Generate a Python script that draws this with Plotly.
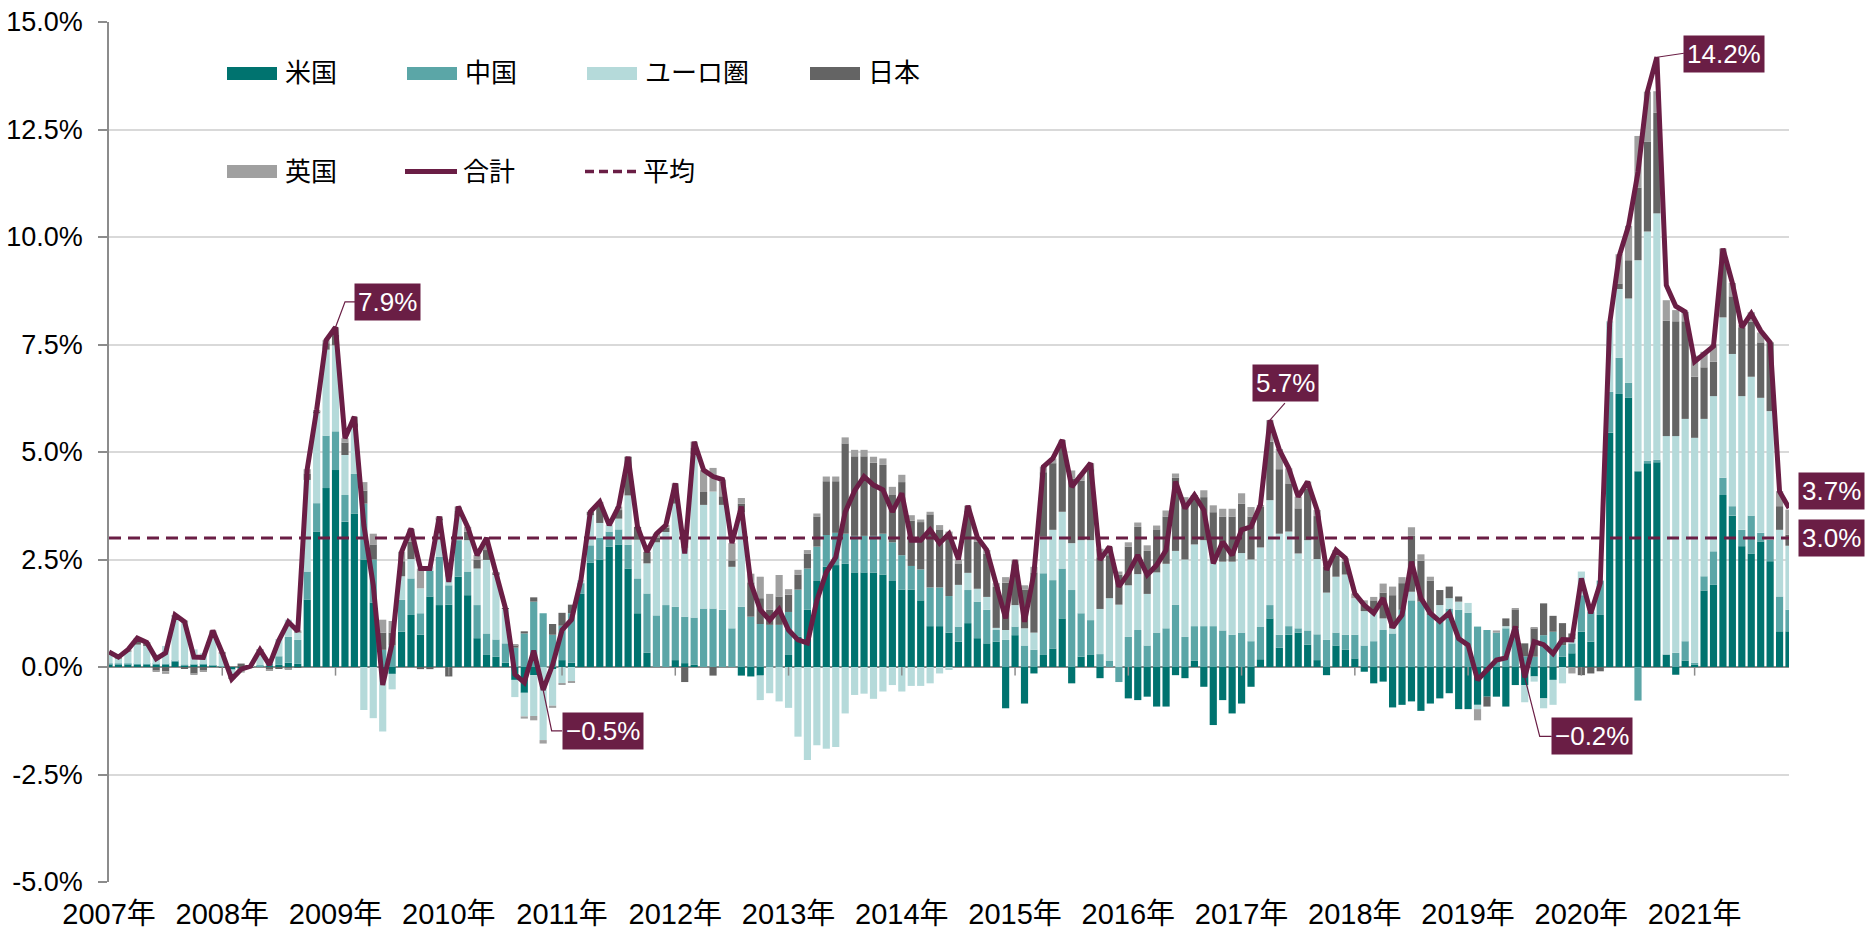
import plotly.graph_objects as go

# ---------------- data (monthly, Jan 2007 - Nov 2021, % contribution) ----------------
YEAR_LABELS = [f"{y}年" for y in range(2007, 2022)]

US = [
    0.06, 0.06, 0.06, 0.05, 0.05, 0.05, 0.05, 0.12, 0.03, 0.05, 0.06, 0.03,
    0.01, -0.06, -0.03, 0.01, 0.02, 0.02, 0.05, 0.10, 0.08, 1.57, 3.15, 4.16,
    4.58, 3.38, 3.57, 2.50, 1.50, -0.10, -0.16, 0.82, 1.21, 0.75, 1.64, 1.44,
    1.45, 2.10, 1.67, 0.67, 0.28, 0.24, 0.10, -0.30, -0.60, -0.19, 0.00, -0.05,
    0.16, 0.10, 1.70, 2.43, 2.50, 2.80, 2.85, 2.29, 1.25, 0.33, 0.00, 0.00,
    0.16, 0.09, 0.05, 0.00, 0.00, 0.00, 0.00, -0.20, -0.22, -0.20, 0.00, 0.00,
    0.28, 0.70, 1.33, 2.00, 2.33, 2.37, 2.40, 2.20, 2.20, 2.20, 2.15, 2.00,
    1.80, 1.80, 1.55, 0.95, 0.95, 0.80, 0.59, 1.02, 0.67, 0.55, 0.59, -0.96,
    0.74, -0.85, -0.15, 0.28, 0.43, 1.13, -0.38, 0.24, 0.28, -0.26, 0.00, 0.00,
    -0.73, -0.77, -0.69, -0.92, -0.92, -0.19, -0.26, 0.15, -0.46, -1.35, -0.77, -1.08,
    -0.85, -0.46, 0.18, 1.13, 0.45, 0.75, 0.80, 0.52, 0.16, -0.19, 0.50, 0.40,
    0.20, -0.11, -0.38, -0.34, -0.94, -0.88, -0.80, -1.02, -0.85, -0.73, -0.61, -0.98,
    -0.98, -0.88, -0.69, -0.69, -0.92, -0.42, -0.42, -0.22, -0.73, -0.30, 0.24, 0.32,
    0.82, 0.59, 1.21, 5.45, 6.35, 6.26, 4.55, 4.74, 4.76, 0.29, -0.18, 0.15,
    0.05, 1.78, 1.91, 4.00, 3.52, 2.81, 2.64, 2.92, 2.46, 0.83, 0.83,
]

CN = [
    0.02, 0.02, 0.02, 0.02, 0.02, 0.02, 0.02, 0.02, 0.02, 0.01, 0.01, 0.01,
    0.01, 0.00, 0.00, 0.00, 0.02, 0.05, 0.20, 0.60, 0.55, 0.65, 0.66, 1.22,
    0.90, 0.62, 0.92, 1.30, 1.00, 0.40, 0.50, 0.74, 0.85, 0.50, 0.60, 1.12,
    0.45, 0.85, 0.55, 0.77, 0.50, 0.40, 0.45, 0.45, 0.78, 1.52, 1.25, 0.75,
    0.80, 1.15, 0.25, 0.40, 0.50, 0.35, 0.35, 0.55, 0.81, 1.38, 1.20, 1.44,
    1.24, 1.08, 1.10, 1.36, 1.36, 1.33, 0.90, 1.40, 1.17, 1.00, 0.98, 0.98,
    1.00, 1.10, 0.96, 0.80, 0.74, 0.75, 0.70, 0.85, 0.85, 0.85, 0.95, 0.90,
    0.80, 0.55, 0.72, 0.90, 0.90, 0.85, 0.35, 0.77, 0.85, 0.78, 0.27, 0.63,
    0.20, 0.50, 0.40, 1.90, 1.59, 1.16, 1.79, 1.01, 0.81, 0.30, 0.15, -0.35,
    0.70, 0.86, 0.50, 0.80, 0.90, 1.45, 0.70, 0.80, 0.95, 0.95, 0.85, 0.75,
    0.80, 0.60, 0.75, 0.31, 0.30, 0.20, 0.10, 0.33, 0.60, 0.63, 0.30, 0.35,
    0.55, 0.50, 0.60, 0.86, 0.78, 1.33, 1.55, 1.52, 1.21, 1.05, 1.36, 1.33,
    1.26, 0.94, 0.86, 0.80, 0.90, 0.90, 0.25, 0.24, 0.74, 0.82, 0.27, 0.23,
    0.85, 0.70, 0.80, 0.95, 0.84, 0.35, -0.78, 0.06, 0.06, 0.00, 0.33, 0.45,
    0.05, 0.33, 0.78, 0.40, 0.22, 0.38, 0.88, 0.20, 0.50, 0.81, 0.50,
]

EU = [
    0.22, 0.12, 0.28, 0.45, 0.42, 0.22, 0.42, 1.03, 0.98, 0.35, 0.25, 0.75,
    0.28, -0.15, -0.05, 0.03, 0.35, 0.05, 0.40, 0.40, 0.18, 2.13, 2.09, 2.00,
    2.00, 0.93, 1.08, -1.00, -1.19, -1.40, -0.36, 0.55, 0.45, 0.58, 0.10, 0.85,
    0.20, 0.55, 0.73, 0.85, 1.71, 1.50, 0.80, -0.40, -0.55, -0.95, -1.70, -0.85,
    -0.38, -0.34, 0.07, 0.70, 0.35, 0.15, 0.25, 1.15, 0.90, 0.70, 1.70, 1.70,
    2.40, 1.60, 3.80, 2.41, 2.72, 2.44, 1.43, 2.20, 0.00, -0.57, -0.61, -0.80,
    -0.95, -1.62, -2.16, -1.82, -1.90, -1.86, -1.08, -0.65, -0.62, -0.74, -0.57, -0.42,
    -0.57, -0.44, -0.44, -0.38, -0.15, -0.07, 0.97, 0.40, 0.30, 0.30, 0.05, 0.23,
    0.50, 0.40, 0.40, 0.85, 1.17, 1.32, 1.09, 1.70, 1.86, 1.05, 1.45, 1.45,
    1.20, 1.30, 1.20, 1.40, 1.50, 1.25, 1.80, 1.90, 2.00, 1.65, 1.60, 1.70,
    1.85, 1.90, 1.85, 2.44, 2.35, 2.20, 1.74, 2.10, 1.75, 1.10, 1.30, 1.40,
    0.85, 0.80, 0.70, 0.27, 0.12, 0.00, 0.20, 0.00, 0.00, 0.39, 0.24, 0.19,
    0.23, -0.10, 0.00, 0.00, 0.05, 0.00, -0.40, -0.12, -0.23, -0.58, -0.38, 0.10,
    0.55, 0.11, 0.00, 1.64, 1.60, 1.96, 4.91, 5.33, 5.73, 5.08, 5.04, 5.17,
    5.23, 3.66, 3.61, 3.73, 3.54, 3.11, 3.23, 3.14, 2.99, 1.55, 1.49,
]

JP = [
    0.00, 0.00, 0.00, 0.12, 0.05, -0.08, -0.10, 0.00, -0.03, -0.15, -0.08, 0.00,
    -0.02, 0.00, 0.08, -0.02, 0.00, -0.05, -0.03, -0.03, -0.02, 0.15, 0.05, 0.15,
    0.25, 0.29, 0.10, 0.30, 0.35, 0.40, 0.30, 0.35, 0.40, -0.05, -0.05, 0.05,
    -0.22, 0.13, 0.20, 0.20, 0.23, 0.03, 0.02, 0.06, 0.05, 0.10, 0.00, 0.25,
    0.30, 0.20, 0.00, 0.08, 0.40, 0.00, 0.20, 0.90, 0.30, 0.27, 0.10, 0.10,
    0.20, -0.35, 0.15, 0.30, -0.20, 0.20, 0.15, 0.20, 0.80, 0.60, 0.35, 0.66,
    0.40, 0.35, 0.35, 0.70, 1.25, 1.20, 2.10, 1.85, 1.85, 1.70, 1.60, 1.10,
    1.70, 1.05, 1.10, 1.70, 1.35, 1.40, 0.50, 1.45, 1.10, 1.00, 0.95, 1.10,
    0.95, 0.90, 1.40, 1.50, 1.55, 1.50, 1.50, 1.38, 1.65, 1.20, 1.00, 0.70,
    0.90, 1.10, 1.00, 1.00, 1.10, 1.70, 1.30, 1.05, 1.00, 1.00, 1.05, 1.05,
    1.15, 1.00, 0.95, 1.36, 1.50, 1.12, 1.05, 1.20, 1.00, 0.60, 0.50, 0.30,
    0.00, 0.15, 0.25, 0.60, 0.77, 0.62, 1.30, 0.95, 0.80, 0.35, 0.27, 0.12,
    0.00, 0.00, -0.23, 0.00, 0.18, 0.43, 0.30, 0.66, 0.74, 0.37, 0.51, 0.13,
    -0.19, -0.15, -0.10, 0.00, 0.13, 0.89, 1.69, 2.09, 2.34, 2.68, 2.67, 2.27,
    1.42, 1.20, 0.80, 1.30, 1.34, 1.60, 1.28, 1.29, 1.60, 0.55, 0.26,
]

UK = [
    0.05, 0.03, 0.04, 0.03, 0.03, -0.02, -0.06, 0.04, 0.05, -0.03, -0.02, 0.06,
    0.05, -0.07, -0.05, 0.00, 0.01, -0.02, 0.00, -0.02, 0.04, 0.10, 0.03, 0.07,
    0.17, 0.10, 0.15, 0.20, 0.25, 0.30, 0.27, 0.22, 0.30, 0.46, 0.00, 0.04,
    0.10, 0.10, 0.11, 0.11, 0.25, 0.03, 0.00, 0.02, -0.05, -0.10, -0.08, -0.05,
    -0.02, -0.01, 0.00, 0.00, 0.09, 0.00, 0.08, 0.00, 0.00, 0.00, 0.10, 0.06,
    0.27, 0.22, 0.14, 0.51, 0.55, 0.39, 0.40, 0.13, 0.20, 0.50, 0.37, 0.50,
    0.13, 0.11, 0.08, 0.07, 0.11, 0.11, 0.14, 0.15, 0.15, 0.14, 0.15, 0.19,
    0.17, 0.13, 0.06, 0.06, 0.10, 0.10, 0.09, 0.11, 0.10, 0.09, 0.09, 0.13,
    0.10, 0.10, 0.13, 0.13, 0.11, 0.17, 0.19, 0.14, 0.14, 0.20, 0.20, 0.07,
    0.10, 0.10, 0.13, 0.09, 0.14, 0.10, 0.15, 0.10, 0.16, 0.16, 0.18, 0.18,
    0.24, 0.22, 0.04, 0.50, 0.47, 0.35, 0.27, 0.16, 0.14, 0.12, 0.12, 0.08,
    0.11, 0.10, 0.08, 0.21, 0.20, 0.14, 0.20, 0.15, 0.09, 0.00, 0.00, 0.00,
    0.00, -0.26, 0.00, 0.05, 0.00, 0.03, 0.00, 0.03, 0.00, 0.00, 0.00, -0.15,
    0.00, 0.00, 0.00, 0.00, 0.68, 0.80, 1.20, 1.16, 0.50, 0.48, 0.26, 0.22,
    0.49, 0.36, 0.40, 0.30, 0.31, 0.05, 0.22, 0.23, 0.00, 0.35, 0.58,
]

TOTAL = [
    0.35, 0.23, 0.40, 0.67, 0.57, 0.19, 0.33, 1.21, 1.05, 0.23, 0.22, 0.85,
    0.33, -0.28, -0.05, 0.02, 0.40, 0.05, 0.62, 1.05, 0.83, 4.60, 5.98, 7.60,
    7.90, 5.32, 5.82, 3.30, 1.90, -0.42, 0.55, 2.68, 3.22, 2.29, 2.29, 3.50,
    1.98, 3.73, 3.26, 2.60, 3.00, 2.20, 1.37, -0.17, -0.36, 0.38, -0.53, 0.05,
    0.86, 1.10, 2.02, 3.61, 3.84, 3.30, 3.73, 4.89, 3.26, 2.68, 3.10, 3.30,
    4.27, 2.64, 5.24, 4.58, 4.43, 4.36, 2.88, 3.73, 1.95, 1.33, 1.09, 1.34,
    0.86, 0.63, 0.56, 1.55, 2.20, 2.55, 3.60, 4.10, 4.43, 4.23, 4.12, 3.61,
    4.04, 2.95, 2.95, 3.19, 2.88, 3.10, 2.50, 3.75, 3.02, 2.72, 1.95, 1.13,
    2.49, 1.05, 2.18, 4.66, 4.85, 5.28, 4.19, 4.47, 4.74, 2.49, 2.80, 1.87,
    2.18, 2.60, 2.14, 2.37, 2.72, 4.31, 3.69, 4.00, 3.65, 2.41, 2.91, 2.60,
    3.19, 3.26, 3.77, 5.74, 5.05, 4.62, 3.96, 4.31, 3.65, 2.26, 2.72, 2.53,
    1.71, 1.44, 1.25, 1.60, 0.92, 1.21, 2.45, 1.60, 1.25, 1.06, 1.26, 0.66,
    0.51, -0.30, -0.06, 0.16, 0.21, 0.94, -0.24, 0.59, 0.52, 0.31, 0.64, 0.63,
    2.06, 1.25, 1.95, 7.99, 9.55, 10.26, 11.51, 13.38, 14.18, 8.88, 8.39, 8.26,
    7.10, 7.28, 7.46, 9.73, 8.93, 7.90, 8.22, 7.82, 7.55, 4.08, 3.70,
]

AVERAGE = 3.0
Y_TICKS = [-5.0, -2.5, 0.0, 2.5, 5.0, 7.5, 10.0, 12.5, 15.0]
# months (index into TOTAL) whose values are called out
CALLOUTS = [24, 46, 123, 150, 164, 178]

# ---------------- styling ----------------
C_US, C_CN, C_EU, C_JP, C_UK = "#00736F", "#5BA6A7", "#B5DADA", "#646464", "#A0A0A0"
MAROON = "#6A1E45"
AX = "#8C8C8C"
FONT = "Liberation Sans, Arial, Noto Sans CJK JP, sans-serif"

W, H = 1874, 934
ML, MR, MT, MB = 109, 85, 22, 52
PW, PH = W - ML - MR, H - MT - MB

N = len(TOTAL)
xs = list(range(N))

fig = go.Figure()
for name, vals, col in [("米国", US, C_US), ("中国", CN, C_CN), ("ユーロ圏", EU, C_EU),
                        ("日本", JP, C_JP), ("英国", UK, C_UK)]:
    fig.add_trace(go.Bar(x=xs, y=vals, name=name, width=0.76,
                         marker=dict(color=col, line=dict(width=0)), showlegend=False))

fig.add_trace(go.Scatter(x=[xs[0], xs[-1]], y=[AVERAGE, AVERAGE], mode="lines", name="平均",
                         line=dict(color=MAROON, width=3, dash="12px,7px"), showlegend=False))
fig.add_trace(go.Scatter(x=xs, y=TOTAL, mode="lines", name="合計",
                         line=dict(color=MAROON, width=5), showlegend=False, cliponaxis=False))

shapes = []
# year tick marks on the zero line
for k in range(12, N, 12):
    shapes.append(dict(type="line", xref="x", yref="y", x0=k, x1=k, y0=0, y1=-0.2,
                       line=dict(color=AX, width=1.5), layer="above"))


def px_x(p):
    return (p - ML) / PW


def px_y(p):
    return 1 - (p - MT) / PH


annotations = []
# manual legend
row1, row2 = 73.5, 171.5
legend_items = [
    ("米国", C_US, "bar", 227, row1), ("中国", C_CN, "bar", 407, row1),
    ("ユーロ圏", C_EU, "bar", 587, row1), ("日本", C_JP, "bar", 810, row1),
    ("英国", C_UK, "bar", 227, row2), ("合計", MAROON, "line", 405, row2),
    ("平均", MAROON, "dash", 585, row2),
]
for text, col, kind, x0, yc in legend_items:
    if kind == "bar":
        shapes.append(dict(type="rect", xref="paper", yref="paper", x0=px_x(x0), x1=px_x(x0 + 50),
                           y0=px_y(yc + 6.5), y1=px_y(yc - 6.5), fillcolor=col, line=dict(width=0)))
    else:
        shapes.append(dict(type="line", xref="paper", yref="paper", x0=px_x(x0), x1=px_x(x0 + 52),
                           y0=px_y(yc), y1=px_y(yc),
                           line=dict(color=col, width=5 if kind == "line" else 3.5,
                                     dash="solid" if kind == "line" else "9px,5px")))
    annotations.append(dict(xref="paper", yref="paper", x=px_x(x0 + 56), y=px_y(yc), text=text,
                            showarrow=False, xanchor="left", yanchor="middle",
                            font=dict(size=26, color="#000000", family=FONT)))


def fmt(v):
    s = f"{abs(v):.1f}%"
    return ("\u2212" + s) if v < 0 else s


# callout box centre offsets and elbow leader paths, in screen pixels (y downwards)
callout_style = {
    24: ((52, -25), [(0, 0), (9.5, -25.5), (20, -25.5)]),
    46: ((60, 41), [(0, 0), (8.5, 41), (19, 41)]),
    123: ((16, -37), [(0, 0), (15, -17)]),
    150: ((67, 59), [(0, 0), (15, 59), (27, 59)]),
    164: ((67, -3), [(0, 0), (27, -4)]),
    178: ((42, -17), [(0, 0), (3.5, -17), (10, -17)]),
}
for k in CALLOUTS:
    (dx, dy), pts = callout_style[k]
    path = "M " + " L ".join(f"{px} {-py}" for px, py in pts)
    shapes.append(dict(type="path", xref="x", yref="y", xsizemode="pixel", ysizemode="pixel",
                       xanchor=k, yanchor=TOTAL[k], path=path,
                       line=dict(color=MAROON, width=1.2), layer="above"))
    annotations.append(dict(x=k, y=TOTAL[k], xref="x", yref="y", text=fmt(TOTAL[k]),
                            showarrow=False, xshift=dx, yshift=-dy,
                            bgcolor=MAROON, borderpad=3,
                            font=dict(size=26, color="#FFFFFF", family=FONT)))
annotations.append(dict(x=xs[-1], y=AVERAGE, xref="x", yref="y", text=fmt(AVERAGE),
                        showarrow=False, xshift=42, bgcolor=MAROON, borderpad=3,
                        font=dict(size=26, color="#FFFFFF", family=FONT)))

fig.update_layout(
    width=W, height=H, barmode="relative", bargap=0.24,
    margin=dict(l=ML, r=MR, t=MT, b=MB, pad=0, autoexpand=False),
    paper_bgcolor="white", plot_bgcolor="white",
    font=dict(family=FONT, size=28, color="#000000"),
    shapes=shapes, annotations=annotations, showlegend=False,
    xaxis=dict(range=[0, N - 1], tickmode="array", tickvals=list(range(0, N, 12)),
               ticktext=YEAR_LABELS, showgrid=False, showline=False, zeroline=False,
               ticks="", tickfont=dict(size=29), ticklabelstandoff=12, fixedrange=True,
               automargin=False),
    yaxis=dict(range=[-5, 15], tickmode="array", tickvals=Y_TICKS,
               ticktext=[f"{v:.1f}%" for v in Y_TICKS],
               showgrid=True, gridcolor="#D9D9D9", gridwidth=1.5,
               showline=True, linecolor=AX, linewidth=1.5,
               ticks="outside", ticklen=9, tickcolor=AX, tickwidth=1.5,
               zeroline=True, zerolinecolor=AX, zerolinewidth=1.5,
               tickfont=dict(size=27), ticklabelstandoff=10, fixedrange=True,
               automargin=False),
)

fig.write_html("out.html", config={"displayModeBar": False},
               post_script="document.body.style.margin='0px';document.body.style.padding='0px';"
                           "document.documentElement.style.overflow='hidden';")
